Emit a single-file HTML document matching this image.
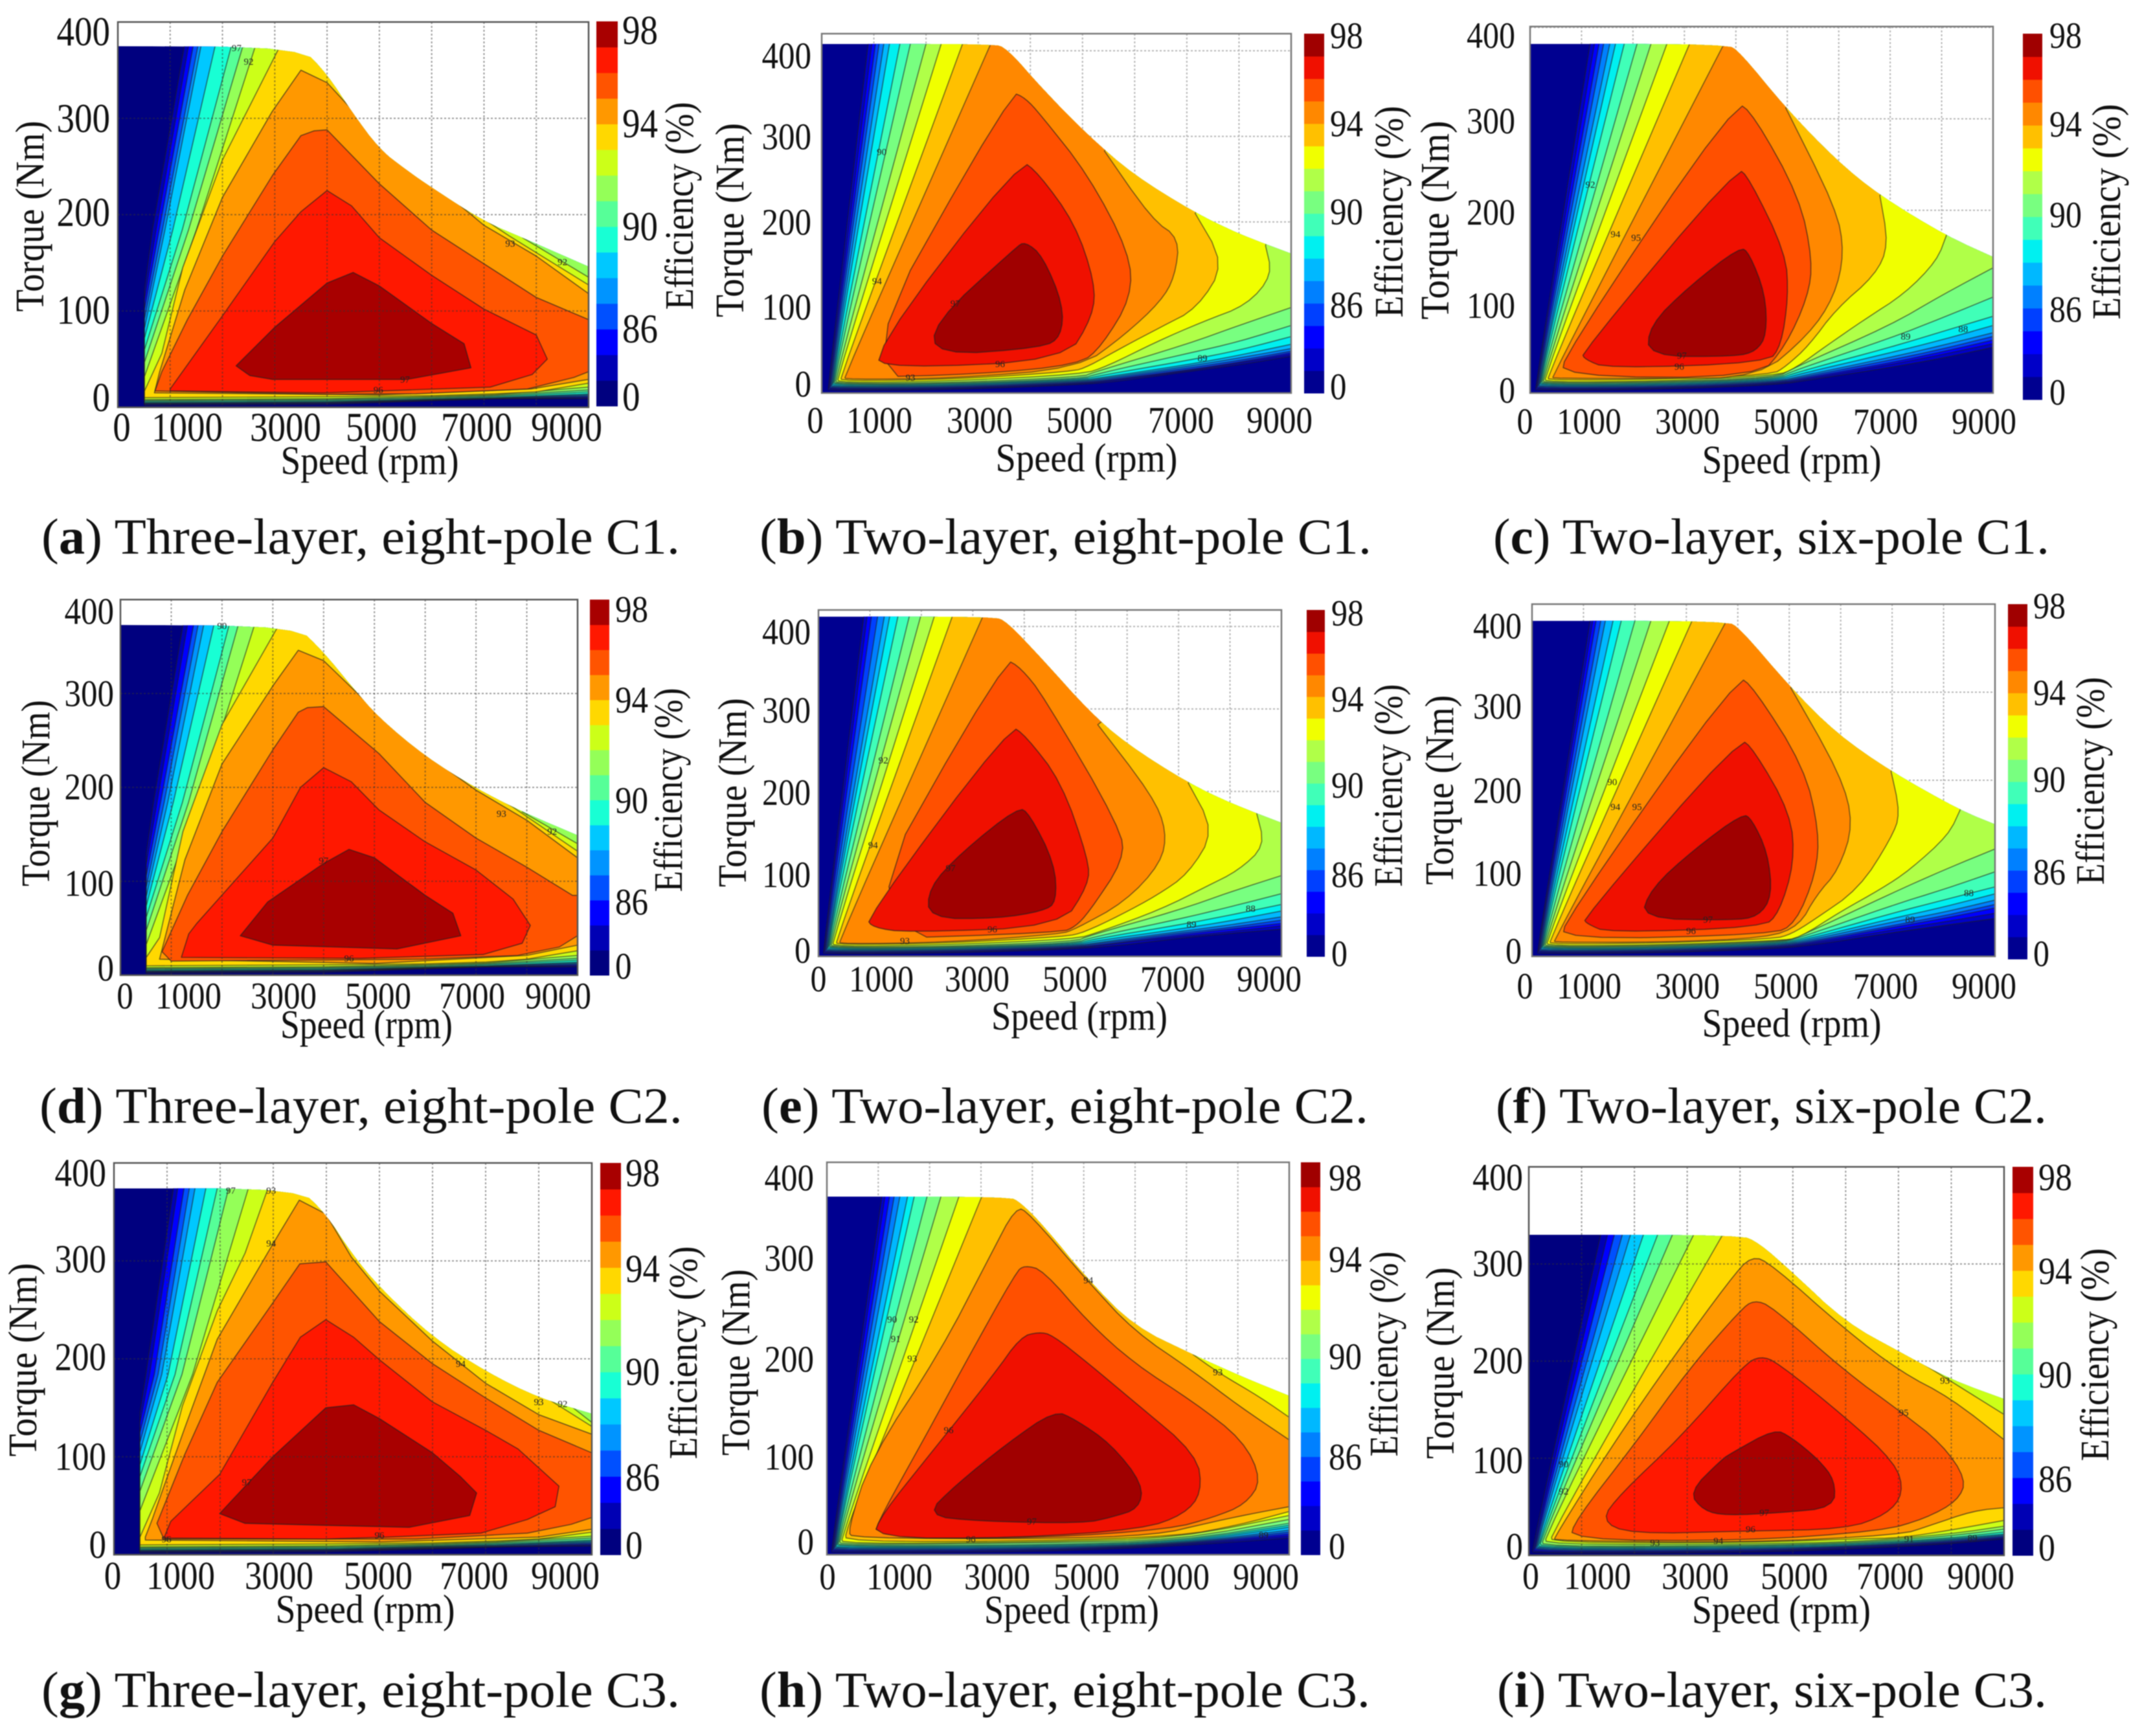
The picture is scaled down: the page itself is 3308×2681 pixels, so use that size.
<!DOCTYPE html>
<html lang="en">
<head>
<meta charset="utf-8">
<title>Efficiency maps</title>
<style>
html,body{margin:0;padding:0;background:#fff;}
#figure{display:block;width:3308px;height:2681px;filter:blur(0.9px);font-family:"Liberation Serif",serif;}
text{fill:#111;}
.title{font-size:62px;text-anchor:middle;}
.caption{font-size:78px;}
</style>
</head>
<body>
<svg id="figure" xmlns="http://www.w3.org/2000/svg" width="3308" height="2681" viewBox="0 0 3308 2681">
<rect x="0" y="0" width="3308" height="2681" fill="#fff"/>
<g id="plots"></g>

<text class="title" transform="translate(67,334) rotate(-90)" textLength="295" lengthAdjust="spacingAndGlyphs">Torque (Nm)</text>
<text class="title" transform="translate(1070,318) rotate(-90)" textLength="321" lengthAdjust="spacingAndGlyphs">Efficiency (%)</text>
<text class="title" x="571" y="732" textLength="275" lengthAdjust="spacingAndGlyphs">Speed (rpm)</text>
<text class="caption" x="64" y="855" textLength="986" lengthAdjust="spacingAndGlyphs">(<tspan font-weight="bold">a</tspan>) Three-layer, eight-pole C1.</text>

<text class="title" transform="translate(1148,340) rotate(-90)" textLength="300" lengthAdjust="spacingAndGlyphs">Torque (Nm)</text>
<text class="title" transform="translate(2166,327) rotate(-90)" textLength="327" lengthAdjust="spacingAndGlyphs">Efficiency (%)</text>
<text class="title" x="1678" y="728" textLength="281" lengthAdjust="spacingAndGlyphs">Speed (rpm)</text>
<text class="caption" x="1173" y="855" textLength="945" lengthAdjust="spacingAndGlyphs">(<tspan font-weight="bold">b</tspan>) Two-layer, eight-pole C1.</text>

<text class="title" transform="translate(2237,340) rotate(-90)" textLength="307" lengthAdjust="spacingAndGlyphs">Torque (Nm)</text>
<text class="title" transform="translate(3274,327) rotate(-90)" textLength="333" lengthAdjust="spacingAndGlyphs">Efficiency (%)</text>
<text class="title" x="2767" y="731" textLength="277" lengthAdjust="spacingAndGlyphs">Speed (rpm)</text>
<text class="caption" x="2306" y="855" textLength="859" lengthAdjust="spacingAndGlyphs">(<tspan font-weight="bold">c</tspan>) Two-layer, six-pole C1.</text>

<text class="title" transform="translate(76,1225) rotate(-90)" textLength="288" lengthAdjust="spacingAndGlyphs">Torque (Nm)</text>
<text class="title" transform="translate(1053,1220) rotate(-90)" textLength="315" lengthAdjust="spacingAndGlyphs">Efficiency (%)</text>
<text class="title" x="566" y="1603" textLength="266" lengthAdjust="spacingAndGlyphs">Speed (rpm)</text>
<text class="caption" x="61" y="1734" textLength="993" lengthAdjust="spacingAndGlyphs">(<tspan font-weight="bold">d</tspan>) Three-layer, eight-pole C2.</text>

<text class="title" transform="translate(1152,1224) rotate(-90)" textLength="292" lengthAdjust="spacingAndGlyphs">Torque (Nm)</text>
<text class="title" transform="translate(2165,1213) rotate(-90)" textLength="313" lengthAdjust="spacingAndGlyphs">Efficiency (%)</text>
<text class="title" x="1667" y="1590" textLength="272" lengthAdjust="spacingAndGlyphs">Speed (rpm)</text>
<text class="caption" x="1176" y="1734" textLength="937" lengthAdjust="spacingAndGlyphs">(<tspan font-weight="bold">e</tspan>) Two-layer, eight-pole C2.</text>

<text class="title" transform="translate(2244,1220) rotate(-90)" textLength="293" lengthAdjust="spacingAndGlyphs">Torque (Nm)</text>
<text class="title" transform="translate(3249,1206) rotate(-90)" textLength="321" lengthAdjust="spacingAndGlyphs">Efficiency (%)</text>
<text class="title" x="2767" y="1601" textLength="277" lengthAdjust="spacingAndGlyphs">Speed (rpm)</text>
<text class="caption" x="2310" y="1734" textLength="851" lengthAdjust="spacingAndGlyphs">(<tspan font-weight="bold">f</tspan>) Two-layer, six-pole C2.</text>

<text class="title" transform="translate(56,2100) rotate(-90)" textLength="299" lengthAdjust="spacingAndGlyphs">Torque (Nm)</text>
<text class="title" transform="translate(1076,2089) rotate(-90)" textLength="329" lengthAdjust="spacingAndGlyphs">Efficiency (%)</text>
<text class="title" x="564" y="2506" textLength="277" lengthAdjust="spacingAndGlyphs">Speed (rpm)</text>
<text class="caption" x="64" y="2636" textLength="986" lengthAdjust="spacingAndGlyphs">(<tspan font-weight="bold">g</tspan>) Three-layer, eight-pole C3.</text>

<text class="title" transform="translate(1157,2104) rotate(-90)" textLength="288" lengthAdjust="spacingAndGlyphs">Torque (Nm)</text>
<text class="title" transform="translate(2158,2091) rotate(-90)" textLength="317" lengthAdjust="spacingAndGlyphs">Efficiency (%)</text>
<text class="title" x="1655" y="2507" textLength="270" lengthAdjust="spacingAndGlyphs">Speed (rpm)</text>
<text class="caption" x="1173" y="2636" textLength="943" lengthAdjust="spacingAndGlyphs">(<tspan font-weight="bold">h</tspan>) Two-layer, eight-pole C3.</text>

<text class="title" transform="translate(2245,2105) rotate(-90)" textLength="296" lengthAdjust="spacingAndGlyphs">Torque (Nm)</text>
<text class="title" transform="translate(3256,2092) rotate(-90)" textLength="329" lengthAdjust="spacingAndGlyphs">Efficiency (%)</text>
<text class="title" x="2751" y="2507" textLength="276" lengthAdjust="spacingAndGlyphs">Speed (rpm)</text>
<text class="caption" x="2312" y="2636" textLength="849" lengthAdjust="spacingAndGlyphs">(<tspan font-weight="bold">i</tspan>) Two-layer, six-pole C3.</text>
</svg>

<script>
/* Tick labels and colormaps */
const xTickLabels = ['0','1000','3000','5000','7000','9000'];
const yTickLabels = ['400','300','200','100','0'];
const colorbarLabels = ['98','94','90','86','0'];
const xGridValues = [1000,2000,3000,4000,5000,6000,7000,8000];
const yGridValues = [100,200,300,400];
const colors15 = ['#00007f','#0000b4','#0000ff','#0050ff','#0094ff','#00c8ff','#18ffd4','#56ff98','#94ff58','#ccff18','#ffd800','#ff9800','#ff5400','#ff1800','#a80000'];
const colors16 = ['#000090','#0000c8','#0000ff','#0040ff','#0080ff','#00b8ff','#00f0f0','#40ffb8','#78ff80','#b0ff48','#f0ff00','#ffc000','#ff8800','#ff5000','#f01000','#a00000'];

/* Series: [speed rpm, torque Nm] */
const envelopeA = [[0,375],[3500,374],[4000,346],[4470,307],[5000,268],[5500,247],[6000,228],[7000,193],[7740,176],[9000,146],[9000,0],[0,0]];
const fansA = [
[[1270,375],[660,184],[510,122],[510,2],[4000,3],[6000,7],[7200,9],[9000,9]],
[[1350,375],[730,184],[510,112],[510,3],[4000,4],[6000,7],[7200,9],[9000,10]],
[[1440,375],[790,184],[510,102],[510,3.5],[4000,4.5],[6000,7.5],[7200,9],[9000,11]],
[[1530,375],[850,184],[510,92],[510,4],[4000,5],[6000,8],[7200,9.5],[9000,12]],
[[1590,375],[900,184],[510,82],[510,4.5],[4000,5.5],[6000,8],[7200,10],[9000,13]],
[[1860,375],[1050,184],[510,72],[510,5],[4000,6],[6000,8.5],[7200,10],[9000,14]],
[[2170,375],[1230,184],[510,60],[510,6],[4000,7],[6000,9],[7200,11],[9000,16]],
[[2390,375],[1350,184],[510,47],[510,7],[4000,8],[6000,10],[7200,12],[9000,18]],
[[2630,375],[1500,184],[510,32],[510,8],[4000,9],[6000,11],[7200,13],[9000,21],[9000,135],[7740,176]],
[[3100,375],[2000,257],[1240,145],[840,56],[510,17],[510,10],[4000,11],[6000,12],[7200,14],[8000,16],[9000,25],[9000,127],[7480,178],[6150,226]]
];
const islandsA = [
[[3500,350],[4000,337],[5000,278],[6000,234],[7000,189],[8000,157],[9000,118],[9000,29],[7900,19],[5000,13],[700,15],[800,37],[1280,122],[2000,218],[2950,307]],
[[3500,282],[3750,287],[4000,288],[5000,232],[6000,184],[7000,149],[8000,114],[9000,91],[9000,37],[8720,31],[7830,19],[5700,14],[3940,13.5],[710,17],[840,37],[1330,91],[2000,157],[2960,241]],
[[4000,225],[4470,209],[5000,176],[6000,137],[7000,102],[8000,75],[8210,50],[7920,34],[7120,21],[3940,15],[1000,17],[1000,19],[1330,44],[2000,95],[3000,172],[3500,203]],
[[4500,140],[5000,126],[6000,87],[6620,66],[6750,41],[6150,35],[5530,29],[2960,29],[2520,33],[2260,43],[3000,83],[4000,129]]
];
const labelsA = [[2270,373,'97'],[2500,359,'92'],[7500,170,'93'],[8500,151,'92'],[5490,29,'97'],[4980,18,'96']];

const envelopeB = [[0,408],[3280,408],[3550,403],[4240,355],[5110,301],[5980,255],[7120,212],[7990,186],[9000,163],[9000,0],[0,0]];
const fansB = [
[[890,408],[120,5],[140,3],[2500,4],[5000,10],[5720,14],[7000,25],[8000,33],[9000,43]],
[[960,408],[135,7],[160,4],[2500,5],[5000,11],[5600,15],[7000,26],[8000,35],[9000,45]],
[[1030,408],[150,8],[180,5],[2500,6],[5000,12],[5500,15],[7000,27],[8000,36],[9000,47]],
[[1100,408],[165,9],[200,6],[2500,7],[5000,13],[5450,16],[7000,29],[8000,38],[9000,49]],
[[1190,408],[180,10],[220,7],[2500,8],[5000,14],[5400,17],[7000,31],[8000,41],[9000,52]],
[[1300,408],[195,12],[240,8],[2500,9],[5000,15],[5350,18],[7000,33],[8000,44],[9000,57]],
[[1500,408],[210,14],[260,9],[2500,10],[5000,16],[5300,20],[7000,38],[8000,50],[9000,66]],
[[1700,408],[230,15],[280,10],[2500,11],[5000,17],[5250,22],[7000,46],[8000,60],[9000,79]],
[[2000,408],[260,16],[300,11],[2500,12],[5000,19],[5200,24],[7000,57],[8000,79],[9000,100]],
[[2290,408],[300,18],[330,12],[2500,14],[5000,22],[5460,31],[6420,60],[7290,83],[8160,103],[8640,138],[8510,172]],
[[2700,408],[360,19],[390,14],[2500,16],[4800,25],[5110,31],[5810,55],[6500,77],[7200,99],[7730,151],[7160,210]],
[[3240,408],[430,19],[470,16],[2500,17],[4940,29],[5810,68],[6500,107],[6770,136],[6860,181],[6330,203],[5420,283]]
];
const islandsB = [
[[3630,352],[3900,345],[4200,325],[5110,255],[5900,164],[5940,112],[5370,55],[4940,33],[3000,22],[540,18]],
[[3810,273],[4150,257],[4850,199],[5240,129],[5200,90],[4680,38],[1370,29],[930,44]],
[[3900,177],[4240,160],[4630,103],[4590,66],[4240,53],[2200,44],[2130,81],[3720,170]]
];
const labelsB = [[1150,282,'90'],[1060,131,'94'],[2560,105,'97'],[3420,34,'96'],[1700,18,'93'],[7300,41,'89']];

const envelopeC = [[0,382],[3820,382],[4080,373],[4970,312],[5950,255],[6800,216],[8090,172],[9000,149],[9000,0],[0,0]];
const fansC = [
[[1165,382],[100,5],[130,3],[2500,4],[4800,9],[5500,15],[7000,28],[8000,38],[9000,50]],
[[1250,382],[115,7],[150,4],[2500,5],[4800,10],[5450,16],[7000,31],[8000,42],[9000,54]],
[[1340,382],[130,8],[170,5],[2500,6],[4800,11],[5400,17],[7000,33],[8000,45],[9000,58]],
[[1430,382],[145,9],[190,6],[2500,7],[4800,12],[5350,18],[7000,36],[8000,48],[9000,62]],
[[1550,382],[160,10],[210,7],[2500,8],[4800,13],[5300,19],[7000,39],[8000,52],[9000,66]],
[[1660,382],[175,12],[230,8],[2500,9],[4800,14],[5250,21],[7000,44],[8000,58],[9000,74]],
[[1830,382],[190,13],[250,9],[2500,10],[4800,15],[5200,23],[7000,50],[8000,67],[9000,84]],
[[2080,382],[210,14],[270,10],[2500,11],[4800,16],[5150,25],[7000,60],[8000,82],[9000,105]],
[[2350,382],[240,15],[290,11],[2500,12],[4800,17],[5100,27],[7000,74],[8000,107],[9000,137]],
[[2660,382],[280,17],[320,12],[2500,13],[4800,19],[5150,27],[5770,52],[6490,80],[7290,109],[7910,145],[8090,172]],
[[3100,382],[340,18],[370,14],[2500,15],[4700,20],[4970,29],[5420,52],[5950,92],[6710,129],[6970,162],[6800,216]],
[[3770,382],[430,18],[460,16],[2500,16],[4440,17],[5420,64],[5910,105],[6110,153],[5950,202],[4970,312]]
];
const islandsC = [
[[3990,320],[4350,304],[5240,214],[5490,145],[5400,105],[4970,52],[4440,17],[610,18],[700,44]],
[[4020,247],[4260,235],[4970,153],[5020,105],[4880,52],[4620,33],[1500,27],[1060,37],[1010,44]],
[[4080,160],[4260,153],[4570,109],[4600,64],[4400,46],[4000,40],[2290,40],[2320,74],[3100,117]]
];
const labelsC = [[1170,228,'92'],[1660,174,'94'],[2060,170,'95'],[2950,41,'97'],[2900,29,'96'],[7300,62,'89'],[8420,70,'88']];

const envelopeD = [[0,373],[3470,372],[4000,344],[4545,308],[5090,274],[6000,233],[7000,199],[7910,174],[9000,149],[9000,0],[0,0]];
const fansD = [
[[1230,373],[650,184],[510,130],[510,2],[4000,3],[6000,7],[7200,9],[9000,9]],
[[1320,373],[720,184],[510,118],[510,3],[4000,4],[6000,7],[7200,9],[9000,10]],
[[1440,373],[790,184],[510,106],[510,3.5],[4000,4.5],[6000,7.5],[7200,9],[9000,11]],
[[1530,373],[860,184],[510,94],[510,4],[4000,5],[6000,8],[7200,9.5],[9000,12]],
[[1640,373],[930,184],[510,84],[510,4.5],[4000,5.5],[6000,8],[7200,10],[9000,13]],
[[1840,373],[1040,184],[510,74],[510,5],[4000,6],[6000,8.5],[7200,10],[9000,14]],
[[2140,373],[1220,184],[510,62],[510,6],[4000,7],[6000,9],[7200,11],[9000,16]],
[[2320,373],[1340,184],[510,48],[510,7],[4000,8],[6000,10],[7200,12],[9000,18]],
[[2640,373],[1530,184],[510,33],[510,8],[4000,9],[6000,11],[7200,13],[9000,21],[9000,140],[7910,174]],
[[3120,373],[2000,267],[1230,153],[770,40],[510,19],[510,10],[4000,11],[6000,12],[7200,14],[8000,17],[9000,26],[9000,132],[7700,180],[6270,225]]
];
const islandsD = [
[[3500,346],[4000,335],[5090,278],[6000,236],[7000,197],[8000,165],[9000,125],[9000,32],[8000,21],[5000,12.5],[770,17],[1270,123],[2000,225],[3000,308]],
[[3500,280],[3680,285],[4000,286],[5090,236],[6000,184],[7000,146],[8000,115],[8900,85],[9000,85],[9000,42],[8640,30],[7820,21],[6000,17],[1000,15],[820,25],[1320,85],[2000,153],[3000,240]],
[[4000,221],[4545,206],[5090,176],[6000,142],[7000,112],[7730,81],[8070,53],[7910,34],[7140,22],[4730,18],[1200,19],[1345,44],[1500,55],[3000,146],[3545,200]],
[[4500,134],[5000,125],[6000,85],[6545,66],[6700,42],[5450,28],[3000,32],[2360,42],[2900,78],[4000,119]]
];
const labelsD = [[2000,372,'90'],[7500,172,'93'],[8500,153,'92'],[4000,122,'97'],[4500,18,'96']];

const envelopeE = [[0,412],[3400,412],[3660,406],[4370,359],[5250,298],[5960,259],[7190,210],[8080,184],[9000,162],[9000,0],[0,0]];
const fansE = [
[[880,412],[90,5],[120,3],[2500,4],[5000,9],[5960,14],[7000,22],[8000,28],[9000,33]],
[[945,412],[105,7],[140,4],[2500,5],[5000,10],[5700,15],[7000,24],[8000,30],[9000,37]],
[[1030,412],[120,8],[160,5],[2500,6],[5000,11],[5600,15],[7000,26],[8000,33],[9000,40]],
[[1150,412],[135,9],[180,6],[2500,7],[5000,12],[5500,16],[7000,28],[8000,35],[9000,44]],
[[1280,412],[150,10],[200,7],[2500,8],[5000,13],[5450,17],[7000,30],[8000,38],[9000,48]],
[[1385,412],[165,12],[220,8],[2500,9],[5000,14],[5400,19],[7000,33],[8000,43],[9000,55]],
[[1545,412],[180,14],[240,9],[2500,10],[5000,15],[5350,21],[7000,38],[8000,50],[9000,63]],
[[1765,412],[200,15],[260,10],[2500,11],[5000,16],[5300,23],[7000,45],[8000,60],[9000,76]],
[[1985,412],[230,16],[280,11],[2500,12],[5000,18],[5250,25],[7000,56],[8000,78],[9000,98]],
[[2250,412],[270,18],[310,12],[2500,14],[5000,21],[5430,29],[6660,57],[7550,85],[8160,104],[8680,134],[8520,173]],
[[2600,412],[340,19],[370,14],[2500,16],[4800,24],[5160,29],[5870,50],[6580,74],[7190,100],[7700,152],[7190,210]],
[[3195,412],[400,19],[440,15],[2500,17],[4700,27],[4990,33],[5960,66],[6660,113],[6770,152],[6490,195],[5430,281]]
];
const islandsE = [
[[3620,361],[3930,350],[4370,316],[5870,156],[5940,117],[5250,53],[4990,36],[4720,29],[530,20]],
[[3730,280],[4020,268],[4720,212],[5250,117],[5250,87],[4720,36],[1720,29],[1060,35],[930,46]],
[[3880,181],[4100,173],[4590,113],[4630,66],[4370,55],[3490,46],[2140,46],[2140,83],[2780,126]]
];
const labelsE = [[1260,238,'92'],[1060,135,'94'],[2570,107,'97'],[3380,33,'96'],[1680,19,'93'],[8400,58,'88'],[7250,39,'89']];

const envelopeF = [[0,381],[3780,381],[4050,372],[5030,305],[5920,253],[6980,210],[8320,166],[9000,150],[9000,0],[0,0]];
const fansF = [
[[1130,381],[100,5],[130,3],[2500,4],[4800,9],[5600,14],[7000,27],[8000,35],[9000,43]],
[[1180,381],[115,7],[150,4],[2500,5],[4800,10],[5500,15],[7000,30],[8000,39],[9000,49]],
[[1245,381],[130,8],[170,5],[2500,6],[4800,11],[5450,16],[7000,33],[8000,43],[9000,55]],
[[1335,381],[145,9],[190,6],[2500,7],[4800,12],[5400,17],[7000,35],[8000,46],[9000,59]],
[[1425,381],[160,10],[210,7],[2500,8],[4800,13],[5350,18],[7000,39],[8000,50],[9000,64]],
[[1575,381],[175,12],[230,8],[2500,9],[4800,14],[5300,19],[7000,43],[8000,56],[9000,71]],
[[1735,381],[190,13],[250,9],[2500,10],[4800,15],[5250,20],[7000,49],[8000,64],[9000,79]],
[[2000,381],[210,14],[270,10],[2500,11],[4800,16],[5200,21],[7000,58],[8000,76],[9000,96]],
[[2310,381],[240,15],[290,11],[2500,12],[4800,17],[5150,21],[7000,72],[8000,98],[9000,122]],
[[2670,381],[280,17],[320,12],[2500,13],[4800,18],[5200,21],[6000,51],[6800,77],[7340,98],[8100,138],[8320,166]],
[[3110,381],[340,18],[370,14],[2500,15],[4700,20],[5030,25],[5470,41],[6360,77],[6980,134],[7160,162],[6980,210]],
[[3780,381],[420,18],[460,16],[2500,16],[4580,21],[5200,35],[5520,69],[5960,98],[6250,150],[6000,206],[5030,305]]
];
const islandsF = [
[[3990,319],[4310,305],[5290,215],[5580,142],[5520,94],[5120,37],[4670,25],[580,19],[670,43]],
[[4030,248],[4310,235],[5030,162],[5100,106],[4800,49],[4490,33],[1470,27],[1070,37],[1000,43]],
[[4090,162],[4270,156],[4580,118],[4670,69],[4400,45],[3870,41],[2110,43],[2310,77],[3160,122]]
];
const labelsF = [[1560,198,'90'],[1620,170,'94'],[2040,170,'95'],[3420,42,'97'],[3090,29,'96'],[7350,42,'89'],[8490,72,'88']];

const envelopeG = [[0,374],[3490,374],[3990,348],[4470,308],[5000,273],[6000,222],[7000,187],[8000,160],[9000,144],[9000,0],[0,0]];
const fansG = [
[[1120,374],[600,184],[490,145],[490,2],[4000,3],[6000,6],[7200,8],[9000,9]],
[[1200,374],[670,184],[490,135],[490,3],[4000,4],[6000,6.5],[7200,8],[9000,10]],
[[1320,374],[760,184],[490,125],[490,3.5],[4000,4.5],[6000,7],[7200,8.5],[9000,11]],
[[1420,374],[830,184],[490,115],[490,4],[4000,5],[6000,7.5],[7200,9],[9000,12]],
[[1525,374],[900,184],[490,105],[490,4.5],[4000,5.5],[6000,8],[7200,10],[9000,13]],
[[1730,374],[1020,184],[490,92],[490,5],[4000,6],[6000,8.5],[7200,10],[9000,14]],
[[1945,374],[1150,184],[490,80],[490,6],[4000,7],[6000,9],[7200,11],[9000,15]],
[[2160,374],[1280,184],[490,65],[490,7],[4000,8],[6000,10],[7200,12],[9000,17]],
[[2530,374],[1480,184],[490,45],[490,8],[4000,9],[6000,11],[7200,13],[9000,19],[9000,135],[8530,155]],
[[2900,374],[2470,308],[1945,249],[1290,152],[855,63],[490,18],[490,10],[4000,11],[6000,12],[7200,14],[8000,16],[9000,23],[9000,131],[8000,165],[6610,208]]
];
const islandsG = [
[[3490,362],[3990,348],[4470,304],[5000,269],[6000,218],[7000,175],[8000,143],[9000,123],[9000,26],[8000,18],[5000,13],[590,15],[590,18],[720,36],[1330,129],[1945,220],[2990,317]],
[[3500,297],[3990,299],[5000,238],[6000,195],[7000,160],[8000,127],[9000,104],[9000,38],[8610,31],[7785,22],[5690,16],[3950,16],[940,16],[810,32],[1330,102],[1945,176],[2990,257]],
[[3990,240],[4515,222],[5000,199],[6000,156],[7000,127],[7610,108],[8380,70],[8310,49],[7785,36],[6910,22],[5130,18],[3950,16],[940,17],[1070,34],[1990,82],[2990,176],[3510,222]],
[[3990,150],[4515,153],[5000,139],[6000,104],[6520,80],[6830,63],[6700,40],[5560,28],[3950,30],[2470,32],[1990,42],[2990,100]]
];
const labelsG = [[2200,372,'97'],[2960,372,'93'],[2960,318,'94'],[6530,195,'94'],[8000,156,'93'],[8450,154,'92'],[2500,74,'97'],[5000,20,'96'],[990,16,'96']];

const envelopeH = [[0,365],[3545,365],[3770,359],[4210,336],[5090,280],[5980,233],[7130,204],[8010,183],[9000,162],[9000,0],[0,0]];
const fansH = [
[[1070,365],[80,4],[120,2],[4210,3],[6860,9],[9000,17]],
[[1130,365],[100,6],[140,3],[4210,4],[6860,10],[9000,19]],
[[1220,365],[115,7],[160,4],[4210,5],[6860,10.5],[9000,21]],
[[1310,365],[130,8],[180,5],[4210,6],[6860,11],[9000,23]],
[[1420,365],[145,9],[200,6],[4210,7],[6860,11.5],[9000,25]],
[[1570,365],[160,10],[220,7],[4210,8],[6860,12],[9000,28]],
[[1700,365],[180,12],[240,8],[4210,9],[6860,13],[9000,30]],
[[1950,365],[200,13],[260,9],[4210,10],[6860,14],[9000,32]],
[[2220,365],[230,15],[290,10],[4210,12],[6860,15],[9000,36]],
[[2570,365],[280,18],[320,11],[4210,13],[6860,17],[9000,40]],
[[3015,365],[2260,268],[1110,121],[360,24],[380,13],[4210,14],[6860,19],[8000,30],[9000,44],[9000,140],[8450,160],[7610,186],[7130,204]]
];
const islandsH = [
[[3680,355],[3940,348],[5090,278],[5980,228],[7130,187],[8010,152],[9000,117],[9000,49],[8190,41],[7390,32],[6420,20],[4210,16],[520,17],[400,24],[850,98],[2200,206],[3160,303]],
[[3850,295],[4210,290],[5090,237],[5980,195],[7130,156],[8100,117],[8470,76],[8140,51],[7520,38],[6680,26],[4210,17],[890,17],[1070,41],[1880,117],[2690,195],[3680,288]],
[[4120,227],[4390,224],[5090,195],[5980,156],[7210,102],[7300,63],[6950,41],[6150,26],[3680,17],[890,17],[1070,41],[2000,102],[3240,183],[3770,222]],
[[4430,147],[4830,138],[5530,113],[6150,72],[6080,47],[5530,38],[5000,32],[2970,34],[1910,40],[2530,72],[3500,113]]
];
const labelsH = [[1270,240,'90'],[1340,220,'91'],[1690,240,'92'],[1660,200,'93'],[5090,280,'94'],[7610,186,'93'],[2370,127,'96'],[3990,34,'97'],[2800,16,'96'],[8500,20,'89']];

const envelopeI = [[0,330],[4000,330],[4350,322],[4960,293],[6000,240],[7040,209],[7990,181],[9000,161],[9000,0],[0,0]];
const fansI = [
[[1360,330],[60,6],[100,2],[4090,3],[6260,7],[8000,12],[9000,17]],
[[1490,330],[90,8],[130,3],[4090,4],[6260,8],[8000,13],[9000,18]],
[[1620,330],[110,10],[150,4],[4090,5],[6260,9],[8000,14],[9000,19]],
[[1770,330],[130,11],[170,5],[4090,6],[6260,9.5],[8000,15],[9000,20]],
[[1925,330],[150,12],[190,6],[4090,7],[6260,10],[8000,16],[9000,21]],
[[2170,330],[180,13],[210,7],[4090,8],[6260,11],[8000,17],[9000,22]],
[[2440,330],[210,15],[240,8],[4090,9],[6260,12],[8000,18],[9000,24]],
[[2720,330],[250,17],[280,9],[4090,10],[6260,13],[8000,20],[9000,27]],
[[3120,330],[310,20],[340,11],[4090,11.5],[6260,14],[8000,22],[9000,30]],
[[3670,330],[420,22],[450,13],[4090,13],[6260,17],[7040,18],[8000,26],[9000,36],[9000,145],[7470,197]]
];
const islandsI = [
[[4220,309],[4610,299],[6000,232],[7040,189],[7990,162],[9000,119],[9000,49],[8420,46],[7560,30],[7040,21],[4090,13],[490,15],[490,19],[1600,115],[2750,205],[3800,283]],
[[4260,263],[4610,256],[6000,189],[7040,148],[7820,115],[8290,78],[8120,56],[7510,38],[6690,25],[4090,15],[780,16],[880,36],[2010,115],[3050,193],[4000,252]],
[[4390,205],[4700,199],[6000,142],[6950,95],[7100,64],[6780,42],[6000,27],[4090,25],[1920,22],[1360,36],[1750,64],[2880,122],[4090,197]],
[[4650,130],[4960,122],[5480,99],[5800,77],[5780,49],[4780,44],[3740,41],[3310,46],[3030,65],[3660,99],[3830,105]]
];
const labelsI = [[7880,180,'93'],[7100,147,'95'],[4460,44,'97'],[4200,27,'96'],[2390,13,'93'],[3590,15,'94'],[7200,17,'91'],[8400,18,'89'],[660,94,'90'],[660,66,'92']];

/* Panel layouts (page pixels) */
const layouts = {
 a:{L:182,R:909,T:34,B:629,ymax:400,cb:[921,954,33,627],cbX:961,cbY:[47,191,350,508,613],yR:170,yY:[49,183,328,479,614],xY:660,xX:[188,289,441,589,736,875],fs:55,grid:'top',round:0},
 b:{L:1269,R:1994,T:52,B:607,ymax:420,cb:[2014,2045,52,607],cbX:2054,cbY:[55,191,327,471,597],yR:1253,yY:[86,211,343,474,593],xY:649,xX:[1259,1358,1513,1667,1824,1976],fs:51,grid:'under',round:2},
 c:{L:2363,R:3078,T:41,B:607,ymax:401,cb:[3124,3154,52,617],cbX:3165,cbY:[55,192,332,478,606],yR:2340,yY:[55,187,328,472,603],xY:651,xX:[2355,2454,2606,2758,2912,3064],fs:50,grid:'under',round:2},
 d:{L:186,R:892,T:926,B:1506,ymax:400,cb:[911,941,926,1506],cbX:950,cbY:[941,1081,1236,1393,1492],yR:176,yY:[944,1071,1215,1364,1495],xY:1538,xX:[193,291,438,584,729,862],fs:51,grid:'top',round:0},
 e:{L:1264,R:1979,T:942,B:1477,ymax:420,cb:[2018,2046,942,1477],cbX:2056,cbY:[947,1080,1213,1351,1473],yR:1252,yY:[976,1097,1224,1351,1468],xY:1512,xX:[1264,1361,1509,1660,1811,1960],fs:50,grid:'under',round:2},
 f:{L:2366,R:3081,T:933,B:1477,ymax:400,cb:[3101,3131,933,1481],cbX:3140,cbY:[936,1070,1204,1347,1473],yR:2350,yY:[967,1091,1221,1349,1469],xY:1523,xX:[2355,2454,2606,2758,2912,3064],fs:50,grid:'under',round:2},
 g:{L:176,R:914,T:1796,B:2401,ymax:400,cb:[927,959,1796,2401],cbX:966,cbY:[1812,1960,2119,2282,2387],yR:164,yY:[1812,1945,2096,2250,2386],xY:2434,xX:[174,279,431,584,732,873],fs:53,grid:'top',round:0},
 h:{L:1277,R:1991,T:1795,B:2401,ymax:400,cb:[2009,2039,1795,2401],cbX:2052,cbY:[1819,1945,2095,2250,2388],yR:1257,yY:[1819,1943,2099,2250,2381],xY:2435,xX:[1278,1389,1540,1678,1817,1955],fs:51,grid:'under',round:2},
 i:{L:2361,R:3095,T:1802,B:2402,ymax:400,cb:[3108,3140,1802,2402],cbX:3148,cbY:[1818,1963,2123,2284,2390],yR:2352,yY:[1818,1951,2101,2255,2388],xY:2434,xX:[2364,2467,2618,2771,2919,3059],fs:52,grid:'top',round:2}
};

const panels = [
 {id:'a',layout:layouts.a,envelope:envelopeA,fans:fansA,islands:islandsA,labels:labelsA,colors:colors15},
 {id:'b',layout:layouts.b,envelope:envelopeB,fans:fansB,islands:islandsB,labels:labelsB,colors:colors16},
 {id:'c',layout:layouts.c,envelope:envelopeC,fans:fansC,islands:islandsC,labels:labelsC,colors:colors16},
 {id:'d',layout:layouts.d,envelope:envelopeD,fans:fansD,islands:islandsD,labels:labelsD,colors:colors15},
 {id:'e',layout:layouts.e,envelope:envelopeE,fans:fansE,islands:islandsE,labels:labelsE,colors:colors16},
 {id:'f',layout:layouts.f,envelope:envelopeF,fans:fansF,islands:islandsF,labels:labelsF,colors:colors16},
 {id:'g',layout:layouts.g,envelope:envelopeG,fans:fansG,islands:islandsG,labels:labelsG,colors:colors15},
 {id:'h',layout:layouts.h,envelope:envelopeH,fans:fansH,islands:islandsH,labels:labelsH,colors:colors16},
 {id:'i',layout:layouts.i,envelope:envelopeI,fans:fansI,islands:islandsI,labels:labelsI,colors:colors15}
];

const NS = 'http://www.w3.org/2000/svg';
const root = document.getElementById('plots');

function make(tag, attrs, parent) {
  const el = document.createElementNS(NS, tag);
  for (const k in attrs) el.setAttribute(k, attrs[k]);
  parent.appendChild(el);
  return el;
}

/* Corner rounding at draw time; vertices on the plot edges stay put. */
function rounded(pts, isClosed, passes) {
  let cur = pts;
  for (let pass = 0; pass < passes; pass++) {
    const out = [];
    const n = cur.length;
    for (let i = 0; i < n; i++) {
      const p = cur[i];
      const atEnd = !isClosed && (i === 0 || i === n - 1);
      if (atEnd || p[0] >= 9000 || p[0] <= 0) { out.push(p); continue; }
      const a = cur[(i - 1 + n) % n];
      const b = cur[(i + 1) % n];
      out.push([p[0] * 0.75 + a[0] * 0.25, p[1] * 0.75 + a[1] * 0.25]);
      out.push([p[0] * 0.75 + b[0] * 0.25, p[1] * 0.75 + b[1] * 0.25]);
    }
    cur = out;
  }
  return cur;
}

function drawGrid(p, g, xAxis, yAxis) {
  const L = p.layout;
  const onTop = L.grid === 'top';
  const stroke = onTop ? 'rgba(50,50,50,0.5)' : '#b4b4b4';
  xGridValues.forEach(function (v) {
    const line = make('line', {x1:xAxis(v), x2:xAxis(v), y1:L.T, y2:L.B, stroke:stroke, 'stroke-width':2, 'stroke-dasharray':'3 3'}, g);
    
    
  });
  yGridValues.forEach(function (v) {
    if (v > L.ymax) return;
    const line = make('line', {x1:L.L, x2:L.R, y1:yAxis(v), y2:yAxis(v), stroke:stroke, 'stroke-width':2, 'stroke-dasharray':'3 3'}, g);
    
    
  });
}

panels.forEach(function (p) {
  const L = p.layout;
  const xAxis = function (s) { return L.L + (L.R - L.L) * s / 9000; };
  const yAxis = function (t) { return L.B - (L.B - L.T) * t / L.ymax; };
  const toPoints = function (pts) {
    return pts.map(function (q) { return xAxis(q[0]).toFixed(1) + ',' + yAxis(q[1]).toFixed(1); }).join(' ');
  };
  const envelopeShape = rounded(p.envelope, true, 2);

  const g = make('g', {}, root);
  
  

  const clip = make('clipPath', {id:'clip-' + p.id}, g);
  make('polygon', {points: toPoints(envelopeShape)}, clip);

  if (L.grid !== 'top') drawGrid(p, g, xAxis, yAxis);

  const map = make('g', {'clip-path':'url(#clip-' + p.id + ')'}, g);
  
  

  const base = make('polygon', {points: toPoints(envelopeShape), fill: p.colors[0]}, map);
  
  

  let level = 1;
  p.fans.forEach(function (pts) {
    const shaped = rounded(pts, false, L.round);
    const closed = shaped.concat([[9200, 470], [pts[0][0], 470]]);
    const poly = make('polygon', {points: toPoints(closed), fill: p.colors[level], stroke:'rgba(30,30,30,0.6)', 'stroke-width':1.6, 'stroke-linejoin':'round'}, map);
    
    
    level++;
  });
  p.islands.forEach(function (pts) {
    const poly = make('polygon', {points: toPoints(rounded(pts, true, L.round)), fill: p.colors[level], stroke:'rgba(30,30,30,0.65)', 'stroke-width':1.6, 'stroke-linejoin':'round'}, map);
    
    
    level++;
  });

  if (L.grid === 'top') drawGrid(p, g, xAxis, yAxis);

  p.labels.forEach(function (q) {
    const t = make('text', {x:xAxis(q[0]), y:yAxis(q[1]) + 5, 'text-anchor':'middle', 'font-size':15, style:'fill:#222'}, g);
    t.textContent = q[2];
    
    
  });

  const frame = make('rect', {x:L.L, y:L.T, width:L.R - L.L, height:L.B - L.T, fill:'none', stroke: L.grid === 'top' ? '#555' : '#777', 'stroke-width':2.5}, g);
  
  

  /* colorbar */
  const n = p.colors.length;
  const h = (L.cb[3] - L.cb[2]) / n;
  p.colors.forEach(function (c, i) {
    const r = make('rect', {x:L.cb[0], y:L.cb[3] - (i + 1) * h, width:L.cb[1] - L.cb[0], height:h + 0.6, fill:c}, g);
    
    
  });

  /* digits are taller than wide in the reference: larger font, same advance */
  const tallFs = L.fs * 1.15;
  colorbarLabels.forEach(function (s, i) {
    const t = make('text', {x:L.cbX, y:L.cbY[i] + L.fs * 0.38, 'font-size':tallFs, textLength:s.length * L.fs * 0.5, lengthAdjust:'spacingAndGlyphs'}, g);
    t.textContent = s;
    
    
  });

  /* tick labels */
  xTickLabels.forEach(function (s, i) {
    const t = make('text', {x:L.xX[i], y:L.xY + L.fs * 0.38, 'font-size':tallFs, 'text-anchor':'middle', textLength:s.length * L.fs * 0.5, lengthAdjust:'spacingAndGlyphs'}, g);
    t.textContent = s;
    
    
  });
  yTickLabels.forEach(function (s, i) {
    const t = make('text', {x:L.yR, y:L.yY[i] + L.fs * 0.38, 'font-size':tallFs, 'text-anchor':'end', textLength:s.length * L.fs * 0.5, lengthAdjust:'spacingAndGlyphs'}, g);
    t.textContent = s;
    
    
  });
});
</script>
</body>
</html>
